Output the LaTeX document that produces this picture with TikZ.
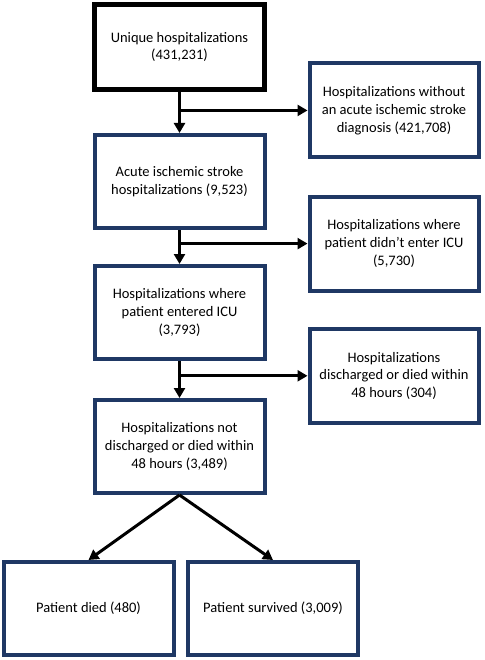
\documentclass[tikz,border=0pt]{standalone}
\usepackage{fontspec}
\setmainfont{Carlito}
\usetikzlibrary{arrows.meta, positioning, calc}
\definecolor{navy}{HTML}{1F3864}
\tikzset{
  box/.style   = {rectangle, draw=navy, line width=4pt, minimum width=170pt, minimum height=93pt, inner sep=2pt, align=center, font=\fontsize{14.5}{17.8}\selectfont},
  start/.style = {box, draw=black, line width=5pt, minimum height=85pt},
  side/.style  = {box, minimum width=169pt, minimum height=94pt},
  arr/.style   = {-{Triangle[length=10pt, width=11pt]}, line width=3pt, draw=black}
}
\begin{document}
\begin{tikzpicture}[x=1pt, y=-1pt]
\useasboundingbox (0,0) rectangle (484,660);
%% ===== main column =====
\node[start] (uniq) at (179.5,47) {Unique hospitalizations\\(431,231)};
\node[box, below=41pt of uniq] (ais) {Acute ischemic stroke\\hospitalizations (9,523)};
\node[box, below=34pt of ais] (icu) {Hospitalizations where\\patient entered ICU\\(3,793)};
\node[box, below=37pt of icu] (stay) {Hospitalizations not\\discharged or died within\\48 hours (3,489)};
%% ===== branch points =====
\coordinate (b1) at ($(uniq.south)!0.45!(ais.north)$);
\coordinate (b2) at ($(ais.south)!0.4!(icu.north)$);
\coordinate (b3) at ($(icu.south)!0.4!(stay.north)$);
%% ===== exclusions =====
\node[side, right=128pt of b1] (noais) {Hospitalizations without\\an acute ischemic stroke\\diagnosis (421,708)};
\node[side, right=128pt of b2] (noicu) {Hospitalizations where\\patient didn’t enter ICU\\(5,730)};
\node[side, right=128pt of b3] (early) {Hospitalizations\\discharged or died within\\48 hours (304)};
%% ===== outcomes =====
\node[box, below=65pt of stay, xshift=-91pt] (died) {Patient died (480)};
\node[box, below=65pt of stay, xshift=93.5pt] (surv) {Patient survived (3,009)};
%% ===== connectors =====
\draw[arr] (uniq) -- (ais);
\draw[arr] (ais) -- (icu);
\draw[arr] (icu) -- (stay);
\draw[arr] (b1) -- (noais);
\draw[arr] (b2) -- (noicu);
\draw[arr] (b3) -- (early);
\draw[arr] (stay.south) -- (died.north);
\draw[arr] (stay.south) -- (surv.north);
\end{tikzpicture}
\end{document}
